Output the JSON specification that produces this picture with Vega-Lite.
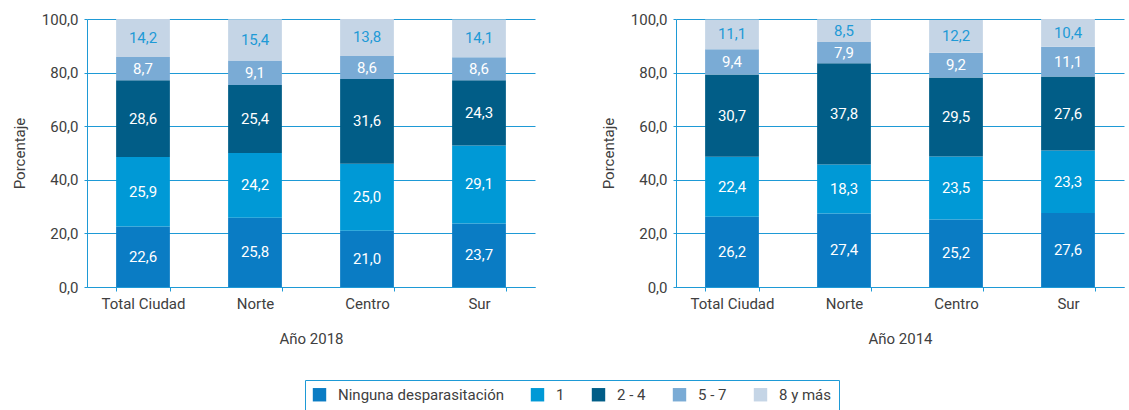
{
  "$schema": "https://vega.github.io/schema/vega-lite/v6.json",
  "padding": {"left": 12, "top": 12, "right": 2, "bottom": 0},
  "config": {
    "locale": {"number": {"decimal": ",", "thousands": ".", "grouping": [3], "currency": ["", " €"]}},
    "font": "Roboto",
    "view": {"stroke": null},
    "axis": {
      "labelFont": "Roboto", "labelFontSize": 15, "labelColor": "#404040",
      "titleFont": "Roboto", "titleFontSize": 15, "titleFontWeight": "normal", "titleColor": "#404040",
      "domainColor": "#1e9ad6", "tickColor": "#1e9ad6", "gridColor": "#1e9ad6", "gridOpacity": 1
    },
    "legend": {
      "orient": "none", "legendX": 218, "legendY": 361, "direction": "horizontal",
      "strokeColor": "#1e9ad6", "padding": 7, "symbolType": "square", "symbolSize": 180,
      "symbolStrokeWidth": 0, "labelFont": "Roboto", "labelFontSize": 15, "labelColor": "#404040",
      "columnPadding": 26, "labelOffset": 11, "labelLimit": 0
    }
  },
  "datasets": {
    "d2018": [
      {"zona": "Total Ciudad", "categoria": "Ninguna desparasitación", "orden": 1, "valor": 22.6},
      {"zona": "Total Ciudad", "categoria": "1", "orden": 2, "valor": 25.9},
      {"zona": "Total Ciudad", "categoria": "2 - 4", "orden": 3, "valor": 28.6},
      {"zona": "Total Ciudad", "categoria": "5 - 7", "orden": 4, "valor": 8.7},
      {"zona": "Total Ciudad", "categoria": "8 y más", "orden": 5, "valor": 14.2},
      {"zona": "Norte", "categoria": "Ninguna desparasitación", "orden": 1, "valor": 25.8},
      {"zona": "Norte", "categoria": "1", "orden": 2, "valor": 24.2},
      {"zona": "Norte", "categoria": "2 - 4", "orden": 3, "valor": 25.4},
      {"zona": "Norte", "categoria": "5 - 7", "orden": 4, "valor": 9.1},
      {"zona": "Norte", "categoria": "8 y más", "orden": 5, "valor": 15.4},
      {"zona": "Centro", "categoria": "Ninguna desparasitación", "orden": 1, "valor": 21.0},
      {"zona": "Centro", "categoria": "1", "orden": 2, "valor": 25.0},
      {"zona": "Centro", "categoria": "2 - 4", "orden": 3, "valor": 31.6},
      {"zona": "Centro", "categoria": "5 - 7", "orden": 4, "valor": 8.6},
      {"zona": "Centro", "categoria": "8 y más", "orden": 5, "valor": 13.8},
      {"zona": "Sur", "categoria": "Ninguna desparasitación", "orden": 1, "valor": 23.7},
      {"zona": "Sur", "categoria": "1", "orden": 2, "valor": 29.1},
      {"zona": "Sur", "categoria": "2 - 4", "orden": 3, "valor": 24.3},
      {"zona": "Sur", "categoria": "5 - 7", "orden": 4, "valor": 8.6},
      {"zona": "Sur", "categoria": "8 y más", "orden": 5, "valor": 14.1}
    ],
    "d2014": [
      {"zona": "Total Ciudad", "categoria": "Ninguna desparasitación", "orden": 1, "valor": 26.2},
      {"zona": "Total Ciudad", "categoria": "1", "orden": 2, "valor": 22.4},
      {"zona": "Total Ciudad", "categoria": "2 - 4", "orden": 3, "valor": 30.7},
      {"zona": "Total Ciudad", "categoria": "5 - 7", "orden": 4, "valor": 9.4},
      {"zona": "Total Ciudad", "categoria": "8 y más", "orden": 5, "valor": 11.1},
      {"zona": "Norte", "categoria": "Ninguna desparasitación", "orden": 1, "valor": 27.4},
      {"zona": "Norte", "categoria": "1", "orden": 2, "valor": 18.3},
      {"zona": "Norte", "categoria": "2 - 4", "orden": 3, "valor": 37.8},
      {"zona": "Norte", "categoria": "5 - 7", "orden": 4, "valor": 7.9},
      {"zona": "Norte", "categoria": "8 y más", "orden": 5, "valor": 8.5},
      {"zona": "Centro", "categoria": "Ninguna desparasitación", "orden": 1, "valor": 25.2},
      {"zona": "Centro", "categoria": "1", "orden": 2, "valor": 23.5},
      {"zona": "Centro", "categoria": "2 - 4", "orden": 3, "valor": 29.5},
      {"zona": "Centro", "categoria": "5 - 7", "orden": 4, "valor": 9.2},
      {"zona": "Centro", "categoria": "8 y más", "orden": 5, "valor": 12.2},
      {"zona": "Sur", "categoria": "Ninguna desparasitación", "orden": 1, "valor": 27.6},
      {"zona": "Sur", "categoria": "1", "orden": 2, "valor": 23.3},
      {"zona": "Sur", "categoria": "2 - 4", "orden": 3, "valor": 27.6},
      {"zona": "Sur", "categoria": "5 - 7", "orden": 4, "valor": 11.1},
      {"zona": "Sur", "categoria": "8 y más", "orden": 5, "valor": 10.4}
    ]
  },
  "spacing": 66,
  "hconcat": [
    {
      "width": 448, "height": 268,
      "data": {"name": "d2018"},
      "encoding": {
        "x": {"field": "zona", "type": "nominal", "sort": ["Total Ciudad", "Norte", "Centro", "Sur"],
          "scale": {"paddingInner": 0.52, "paddingOuter": 0.26},
          "axis": {"title": "Año 2018", "labelAngle": 0, "tickBand": "extent", "tickSize": 4, "labelPadding": 5, "titlePadding": 20, "grid": false}},
        "y": {"field": "valor", "type": "quantitative", "stack": "zero",
          "scale": {"domain": [0, 100], "nice": false},
          "axis": {"title": "Porcentaje", "values": [0, 20, 40, 60, 80, 100], "format": ".1f", "tickSize": 3, "labelPadding": 6, "titlePadding": 14, "grid": true}}
      },
      "layer": [
        {"mark": {"type": "bar"},
         "encoding": {
           "color": {"field": "categoria", "type": "nominal", "title": null,
             "scale": {"domain": ["Ninguna desparasitación", "1", "2 - 4", "5 - 7", "8 y más"],
               "range": ["#0a7cc4", "#0099d6", "#015d87", "#7aabd5", "#c5d5e6"]}},
           "order": {"field": "orden", "type": "quantitative"}}},
        {"mark": {"type": "text", "fontSize": 15, "font": "Roboto"},
         "encoding": {
           "y": {"field": "valor", "type": "quantitative", "stack": "zero", "bandPosition": 0.5},
           "detail": {"field": "categoria"},
           "order": {"field": "orden", "type": "quantitative"},
           "text": {"field": "valor", "type": "quantitative", "format": ".1f"},
           "color": {"condition": {"test": "datum.categoria === '8 y más'", "value": "#1e9ad6"}, "value": "white"}}}
      ]
    },
    {
      "width": 448, "height": 268,
      "data": {"name": "d2014"},
      "encoding": {
        "x": {"field": "zona", "type": "nominal", "sort": ["Total Ciudad", "Norte", "Centro", "Sur"],
          "scale": {"paddingInner": 0.52, "paddingOuter": 0.26},
          "axis": {"title": "Año 2014", "labelAngle": 0, "tickBand": "extent", "tickSize": 4, "labelPadding": 5, "titlePadding": 20, "grid": false}},
        "y": {"field": "valor", "type": "quantitative", "stack": "zero",
          "scale": {"domain": [0, 100], "nice": false},
          "axis": {"title": "Porcentaje", "values": [0, 20, 40, 60, 80, 100], "format": ".1f", "tickSize": 3, "labelPadding": 6, "titlePadding": 14, "grid": true}}
      },
      "layer": [
        {"mark": {"type": "bar"},
         "encoding": {
           "color": {"field": "categoria", "type": "nominal", "title": null,
             "scale": {"domain": ["Ninguna desparasitación", "1", "2 - 4", "5 - 7", "8 y más"],
               "range": ["#0a7cc4", "#0099d6", "#015d87", "#7aabd5", "#c5d5e6"]}},
           "order": {"field": "orden", "type": "quantitative"}}},
        {"mark": {"type": "text", "fontSize": 15, "font": "Roboto"},
         "encoding": {
           "y": {"field": "valor", "type": "quantitative", "stack": "zero", "bandPosition": 0.5},
           "detail": {"field": "categoria"},
           "order": {"field": "orden", "type": "quantitative"},
           "text": {"field": "valor", "type": "quantitative", "format": ".1f"},
           "color": {"condition": {"test": "datum.categoria === '8 y más'", "value": "#1e9ad6"}, "value": "white"}}}
      ]
    }
  ]
}
